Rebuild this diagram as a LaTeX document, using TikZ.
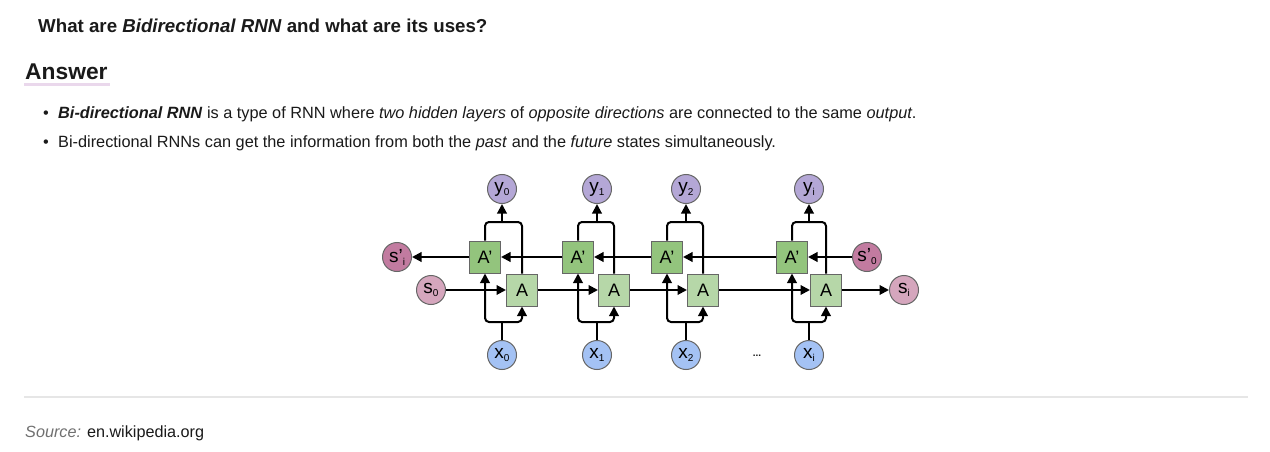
\documentclass[tikz,border=0pt]{standalone}
\usepackage{fontspec}
\setmainfont{Liberation Sans}
\usetikzlibrary{arrows.meta}
\definecolor{txt}{HTML}{1A1A1A}
\definecolor{ypurple}{HTML}{B4A7D6}
\definecolor{apgreen}{HTML}{93C47D}
\definecolor{agreen}{HTML}{B6D7A8}
\definecolor{xblue}{HTML}{A4C2F4}
\definecolor{spdark}{HTML}{C27BA0}
\definecolor{slight}{HTML}{D5A6BD}
\definecolor{bord}{HTML}{666666}
\definecolor{ansline}{HTML}{EAD8EC}
\definecolor{sepline}{HTML}{E6E6E6}
\definecolor{srcgray}{HTML}{707070}
\newcommand{\sbs}[1]{\raisebox{-0.3ex}{\fontsize{10}{10}\selectfont #1}}
\tikzset{
  circ/.style={circle, draw=bord, line width=1pt, minimum size=29pt, inner sep=0pt, font=\fontsize{19}{19}\selectfont},
  boxa/.style={rectangle, draw=bord, line width=1pt, minimum width=31pt, minimum height=32pt, inner sep=0pt, fill=agreen, font=\fontsize{18}{18}\selectfont},
  boxap/.style={boxa, fill=apgreen},
  conn/.style={line width=2pt, -{Triangle[length=9.5pt,width=9.5pt]}},
  plain/.style={line width=2pt},
  body/.style={anchor=base west, inner sep=0pt, text=txt, font=\fontsize{16.3}{19}\selectfont}
}
\begin{document}
\begin{tikzpicture}[x=1pt,y=-1pt]
\useasboundingbox (0,0) rectangle (1270,452);
\fill[white] (0,0) rectangle (1270,452);
% texts
\node[body, font=\fontsize{18.7}{21}\selectfont\bfseries] (title) at (38,33) {What are \textit{Bidirectional RNN} and what are its uses?};
\fill[ansline] (24,83) rectangle (110,86);
\node[body, font=\fontsize{22.8}{25}\selectfont\bfseries] (ans) at (25,80) {Answer};
\node[body] (bu1) at (43,118) {\textbullet};
\node[body] (b1) at (58,118) {\textbf{\textit{Bi-directional RNN}} is a type of RNN where \textit{two hidden layers} of \textit{opposite directions} are connected to the same \textit{output}.};
\node[body] (bu2) at (43,147) {\textbullet};
\node[body] (b2) at (58,147) {Bi-directional RNNs can get the information from both the \textit{past} and the \textit{future} states simultaneously.};
\draw[sepline, line width=1.5pt] (24,397) -- (1248,397);
\node[body, font=\fontsize{16.2}{18}\selectfont] (src) at (25,437) {\textcolor{srcgray}{\textit{Source:}} en.wikipedia.org};
% diagram nodes
\foreach \i/\xp/\xa/\xm/\lab in {0/485/522/502/0, 1/578/614/597/1, 2/667/703/686/2, 3/792/826/809/i} {
  \node[boxap] (Ap\i) at (\xp,257) {A'};
  \node[boxa] (A\i) at (\xa,290) {A};
  \node[circ, fill=ypurple] (y\i) at (\xm,189) {y\sbs{\lab}};
  \node[circ, fill=xblue] (x\i) at (\xm,355) {x\sbs{\lab}};
}
\node[circ, fill=spdark] (spi) at (397,257) {s'\sbs{i}};
\node[circ, fill=slight] (s0) at (431,290) {s\sbs{0}};
\node[circ, fill=spdark] (sp0) at (867,257) {s'\sbs{0}};
\node[circ, fill=slight] (si) at (904,290) {s\sbs{i}};
\node[font=\fontsize{10}{10}\selectfont\bfseries, text=txt] (dots) at (757,356) {...};
% connectors per column
\foreach \i in {0,1,2,3} {
  \coordinate (jb\i) at ([yshift=18pt]x\i.north);
  \coordinate (jt\i) at ([yshift=-18pt]y\i.south);
  \draw[plain] (x\i.north) -- (jb\i);
  \draw[conn, rounded corners=4pt] (jb\i) -| (Ap\i.south);
  \draw[conn, rounded corners=4pt] (jb\i) -| (A\i.south);
  \draw[plain, rounded corners=4pt] (Ap\i.north) |- (jt\i);
  \draw[plain, rounded corners=4pt] (A\i.north) |- (jt\i);
  \draw[conn] (jt\i) -- (y\i.south);
}
% horizontal chains
\draw[conn] (sp0.west) -- (Ap3.east);
\draw[conn] (Ap3.west) -- (Ap2.east);
\draw[conn] (Ap2.west) -- (Ap1.east);
\draw[conn] (Ap1.west) -- (Ap0.east);
\draw[conn] (Ap0.west) -- (spi.east);
\draw[conn] (s0.east) -- (A0.west);
\draw[conn] (A0.east) -- (A1.west);
\draw[conn] (A1.east) -- (A2.west);
\draw[conn] (A2.east) -- (A3.west);
\draw[conn] (A3.east) -- (si.west);
\end{tikzpicture}
\end{document}
